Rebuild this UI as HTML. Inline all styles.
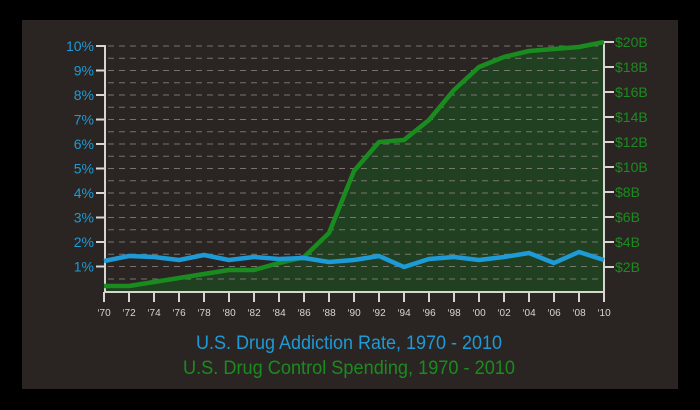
<!DOCTYPE html>
<html><head><meta charset="utf-8"><style>
html,body{margin:0;padding:0;background:#000;}
svg{display:block}
</style></head><body>
<svg width="700" height="410" xmlns="http://www.w3.org/2000/svg" font-family="Liberation Sans, sans-serif">
<rect x="0" y="0" width="700" height="410" fill="#000"/>
<rect x="22" y="20" width="656" height="369" fill="#2a2522"/>
<polygon fill="#213f21" points="104,286 129,286 154,282 179,278 204,274 229,270 254,270 279,263 304,257 329,233 354,171 379,142 404,140 429,120 454,90 479,67 504,57 529,51 554,49 579,47 604,42 604,292 104,292"/>
<g stroke="#8a8680" stroke-width="1" stroke-dasharray="6,5" opacity="0.8">
<line x1="108" x2="602" y1="279" y2="279"/><line x1="108" x2="602" y1="266.5" y2="266.5"/><line x1="108" x2="602" y1="254.2" y2="254.2"/><line x1="108" x2="602" y1="242" y2="242"/><line x1="108" x2="602" y1="229.8" y2="229.8"/><line x1="108" x2="602" y1="217.5" y2="217.5"/><line x1="108" x2="602" y1="205.3" y2="205.3"/><line x1="108" x2="602" y1="193" y2="193"/><line x1="108" x2="602" y1="180.8" y2="180.8"/><line x1="108" x2="602" y1="168.5" y2="168.5"/><line x1="108" x2="602" y1="156.3" y2="156.3"/><line x1="108" x2="602" y1="144" y2="144"/><line x1="108" x2="602" y1="131.8" y2="131.8"/><line x1="108" x2="602" y1="119.5" y2="119.5"/><line x1="108" x2="602" y1="107.3" y2="107.3"/><line x1="108" x2="602" y1="95" y2="95"/><line x1="108" x2="602" y1="82.8" y2="82.8"/><line x1="108" x2="602" y1="70.5" y2="70.5"/><line x1="108" x2="602" y1="58.3" y2="58.3"/><line x1="108" x2="602" y1="46" y2="46"/>
</g>
<g stroke="#d8d5d0" stroke-width="2" fill="none">
<line x1="105" y1="45" x2="105" y2="293"/>
<line x1="604" y1="41" x2="604" y2="293"/>
<line x1="104" y1="292" x2="605" y2="292"/>
<path d="M96 46H105M96 70.5H105M96 95H105M96 119.5H105M96 144H105M96 168.5H105M96 193H105M96 217.5H105M96 242H105M96 266.5H105"/>
<path d="M604 42H614M604 67H614M604 92H614M604 117H614M604 142H614M604 167H614M604 192H614M604 217H614M604 242H614M604 267H614"/>
<path d="M104 292v10M129 292v10M154 292v10M179 292v10M204 292v10M229 292v10M254 292v10M279 292v10M304 292v10M329 292v10M354 292v10M379 292v10M404 292v10M429 292v10M454 292v10M479 292v10M504 292v10M529 292v10M554 292v10M579 292v10M604 292v10"/>
</g>
<polyline fill="none" stroke="#1a8c1f" stroke-width="4.5" stroke-linejoin="round" points="104,286 129,286 154,282 179,278 204,274 229,270 254,270 279,263 304,257 329,233 354,171 379,142 404,140 429,120 454,90 479,67 504,57 529,51 554,49 579,47 604,42"/>
<polyline fill="none" stroke="#1e9ad6" stroke-width="4.5" stroke-linejoin="round" points="104,261 129,256 154,257 179,260 204,255 229,260 254,257 279,259 304,258 329,262 354,260 379,256 404,267 429,259 454,257 479,260 504,257 529,253 554,263 579,252 604,260"/>
<g fill="#1e9ad6" font-size="14" text-anchor="end">
<text x="94" y="51">10%</text><text x="94" y="75.5">9%</text><text x="94" y="100">8%</text><text x="94" y="124.5">7%</text><text x="94" y="149">6%</text><text x="94" y="173.5">5%</text><text x="94" y="198">4%</text><text x="94" y="222.5">3%</text><text x="94" y="247">2%</text><text x="94" y="271.5">1%</text>
</g>
<g fill="#1a8c1f" font-size="14">
<text x="615" y="47">$20B</text><text x="615" y="72">$18B</text><text x="615" y="97">$16B</text><text x="615" y="122">$14B</text><text x="615" y="147">$12B</text><text x="615" y="172">$10B</text><text x="615" y="197">$8B</text><text x="615" y="222">$6B</text><text x="615" y="247">$4B</text><text x="615" y="272">$2B</text>
</g>
<g fill="#d8d5d0" font-size="10" text-anchor="middle">
<text x="104" y="316">‘70</text><text x="129" y="316">‘72</text><text x="154" y="316">‘74</text><text x="179" y="316">‘76</text><text x="204" y="316">‘78</text><text x="229" y="316">‘80</text><text x="254" y="316">‘82</text><text x="279" y="316">‘84</text><text x="304" y="316">‘86</text><text x="329" y="316">‘88</text><text x="354" y="316">‘90</text><text x="379" y="316">‘92</text><text x="404" y="316">‘94</text><text x="429" y="316">‘96</text><text x="454" y="316">‘98</text><text x="479" y="316">‘00</text><text x="504" y="316">‘02</text><text x="529" y="316">‘04</text><text x="554" y="316">‘06</text><text x="579" y="316">‘08</text><text x="604" y="316">‘10</text>
</g>
<text x="349" y="349" fill="#1e9ad6" font-size="19" text-anchor="middle" textLength="306" lengthAdjust="spacingAndGlyphs">U.S. Drug Addiction Rate, 1970 - 2010</text>
<text x="349" y="374" fill="#1a8c1f" font-size="19" text-anchor="middle" textLength="332" lengthAdjust="spacingAndGlyphs">U.S. Drug Control Spending, 1970 - 2010</text>
</svg>
</body></html>
